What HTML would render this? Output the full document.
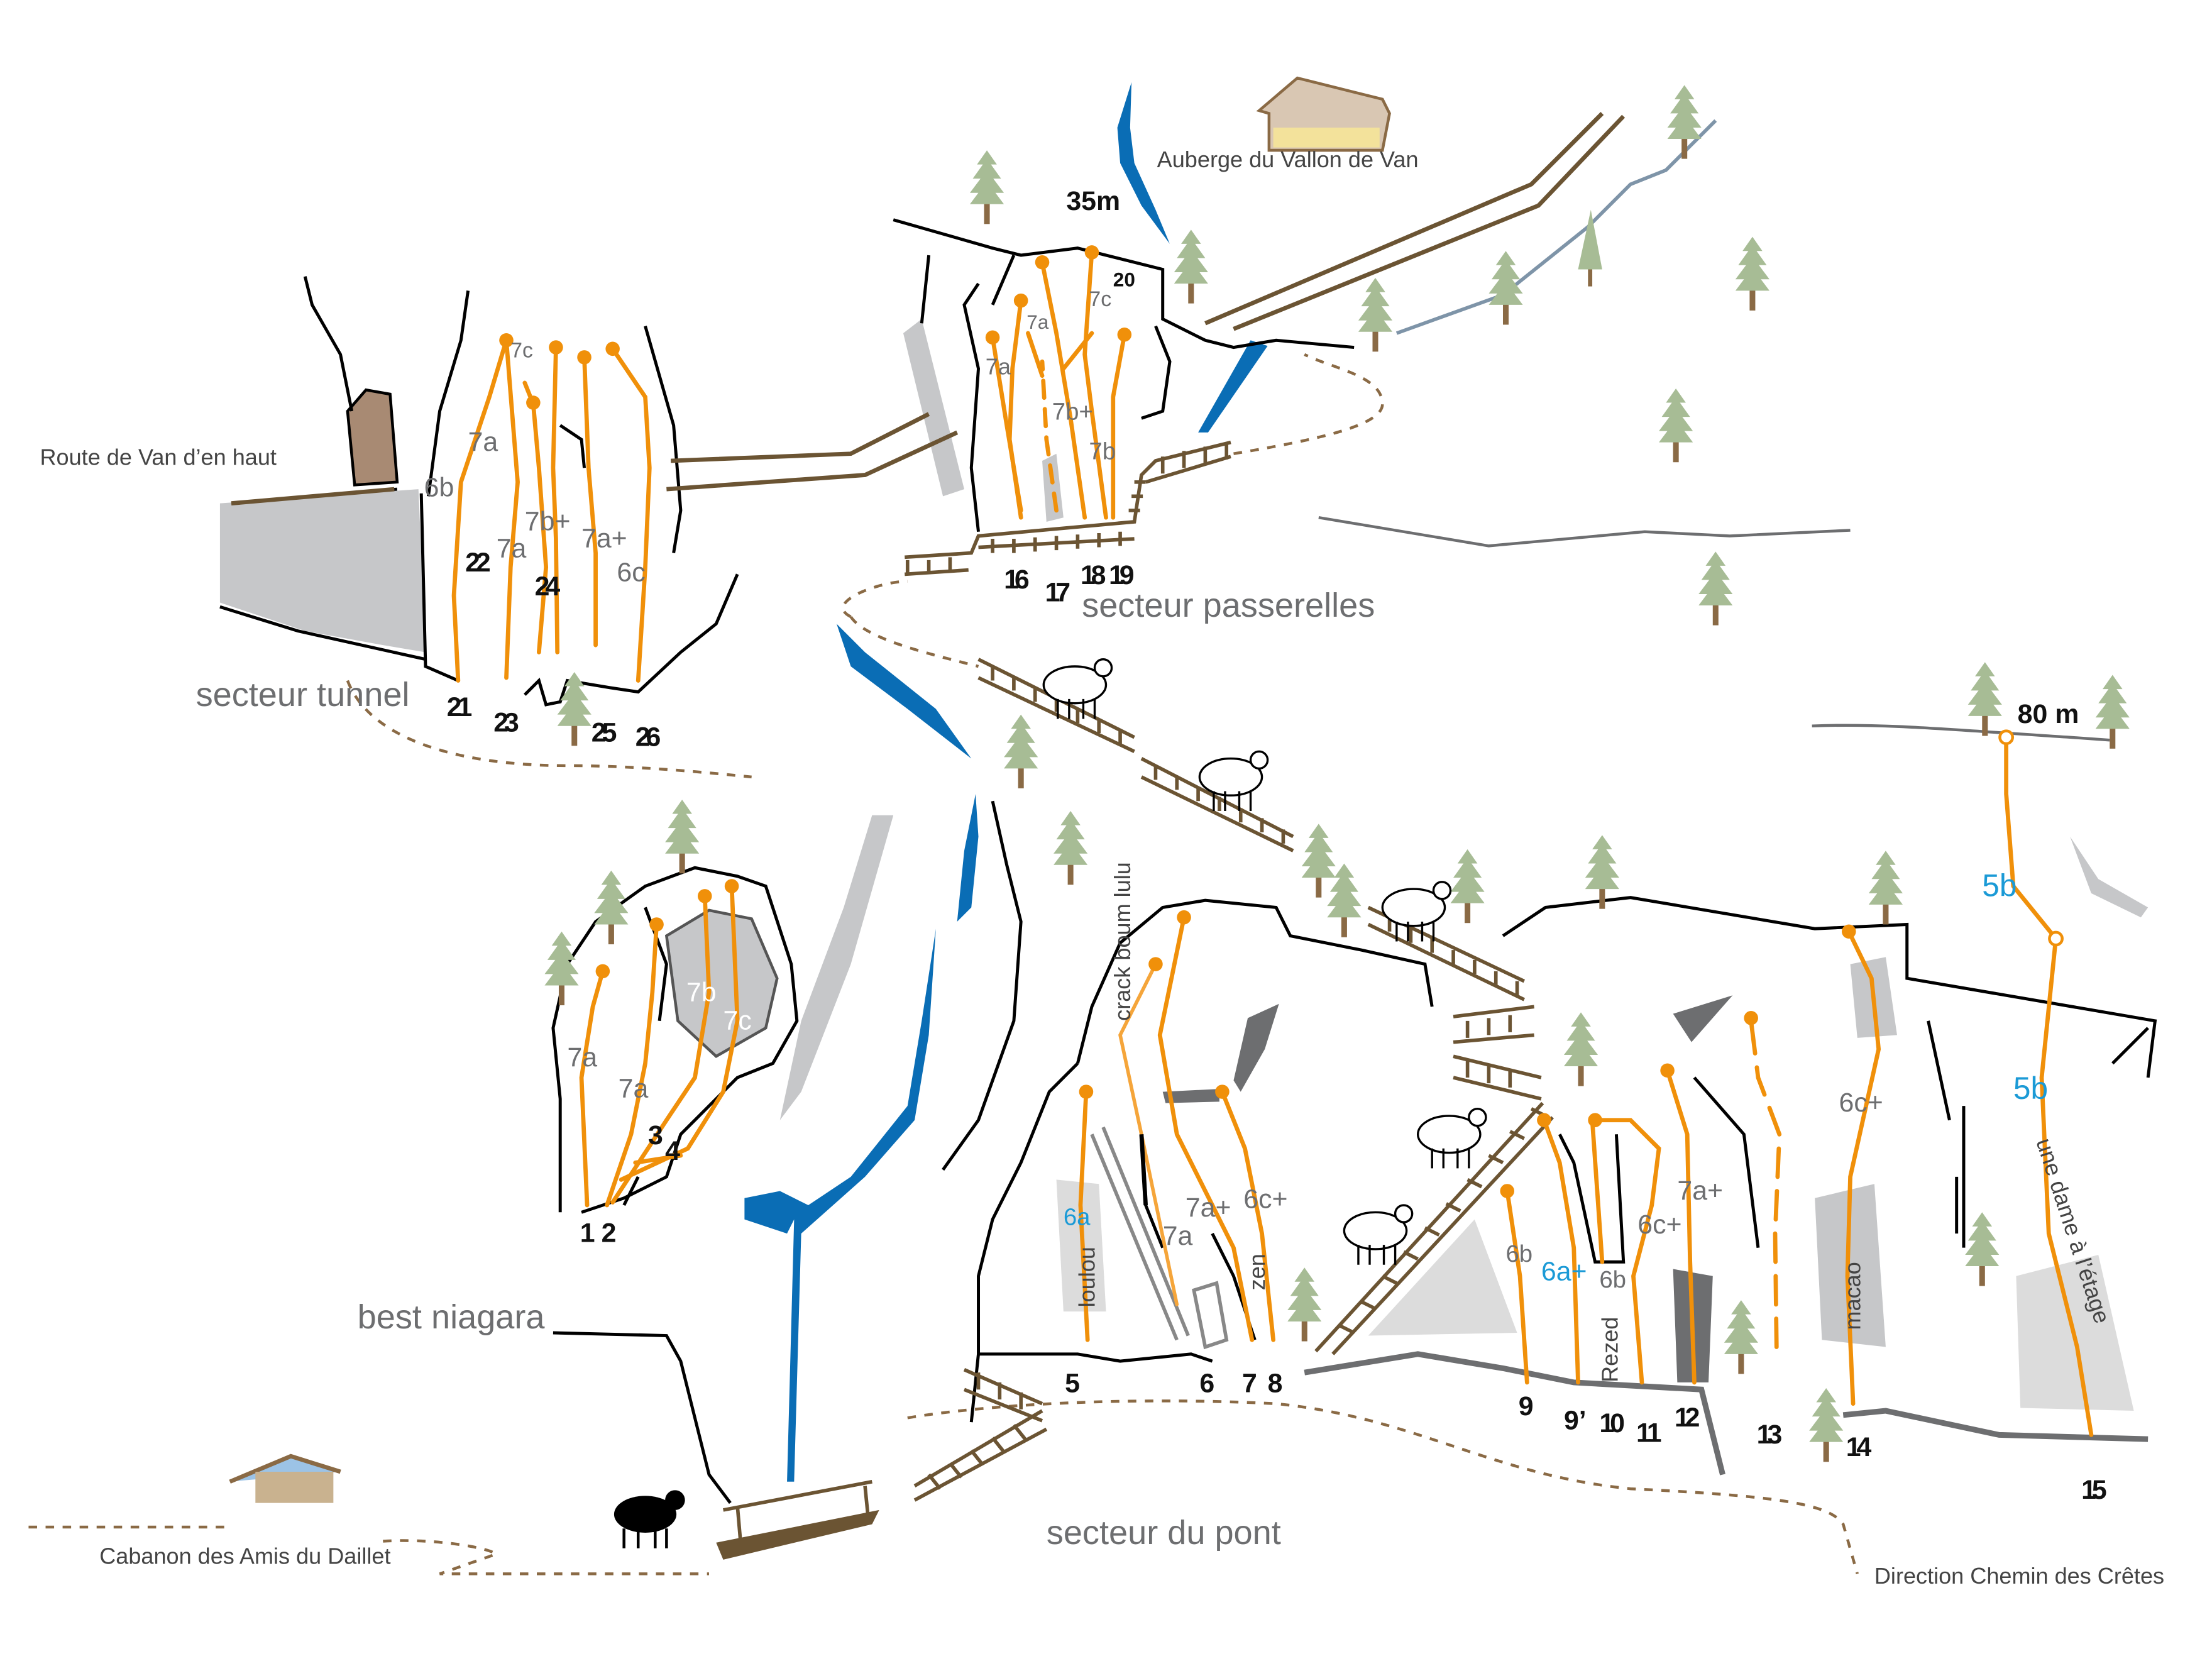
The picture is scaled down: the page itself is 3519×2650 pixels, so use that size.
<!DOCTYPE html>
<html><head><meta charset="utf-8"><style>
html,body{margin:0;padding:0;background:#fff}
svg{display:block}
text{font-family:"Liberation Sans",sans-serif}
.o{stroke:#f0900a;stroke-width:3;fill:none;stroke-linecap:round}
.ol{stroke:#f5a53a;stroke-width:2.5;fill:none}
.k{stroke:#000;stroke-width:2.2;fill:none}
.b{stroke:#6b5433;stroke-width:3;fill:none}
.d{stroke:#8a6a45;stroke-width:2;fill:none;stroke-dasharray:6 6}
.g{fill:#c6c7c9}
.lg{fill:#dcdcdc}
.dg{fill:#6d6e70}
.n{font-family:"Liberation Sans Narrow","Liberation Sans",sans-serif;font-size:19px;font-weight:bold;fill:#111}
.gr{font-size:19px;fill:#6d6e70}
.bl{font-size:22px;fill:#1b9ad6}
.lab{font-size:24px;fill:#6d6e70}
.sm{font-size:16px;fill:#444}
</style></head><body>
<svg width="3519" height="2650" viewBox="0 0 1560 1175" xmlns="http://www.w3.org/2000/svg">
<defs>
<g id="t"><rect x="-2" y="0" width="4" height="16" fill="#8a6a45"/><path d="M0-36 L-7-26 H7Z M0-30 L-10-16 H10Z M0-22 L-12-6 H12Z M0-14 L-12 2 H12Z" fill="#a7bc95"/></g>
<g id="sh"><ellipse cx="0" cy="0" rx="22" ry="13" fill="#fff" stroke="#000" stroke-width="1.5"/><circle cx="20" cy="-12" r="6" fill="#fff" stroke="#000" stroke-width="1.5"/><path d="M-12 10v14M-4 10v14M6 10v14M14 10v14" stroke="#000" stroke-width="1.5"/></g>
</defs>

<path class="d" d="M245 480 C260 520 320 540 400 540 C450 540 500 545 530 548"/>
<path class="d" d="M20 1077 H160 M270 1087 C300 1085 340 1090 350 1096 L310 1110 H500"/>
<path class="d" d="M640 1000 C700 990 800 985 900 990 C1000 1000 1050 1040 1150 1050 C1250 1055 1290 1060 1300 1075 L1310 1110"/>
<path class="d" d="M600 435 C580 425 620 410 640 410 M600 435 C610 450 650 460 690 470"/>
<path class="d" d="M870 320 C930 310 975 300 975 285 C975 265 940 260 920 250"/>

<path d="M798 58 L788 90 L790 115 L805 145 L825 172 L815 148 L800 115 L797 90Z" fill="#0a6db5"/>
<path d="M882 240 L845 305 L852 305 L894 244Z" fill="#0a6db5"/>
<path d="M590 440 L600 470 L640 500 L685 535 L660 500 L610 460Z" fill="#0a6db5"/>
<path d="M688 560 L680 600 L675 650 L685 640 L690 590Z" fill="#0a6db5"/>
<path d="M660 655 L650 720 L640 780 L600 830 L570 850 L550 840 L525 845 L525 860 L555 870 L560 860 L555 1045 L560 1045 L565 870 L610 830 L645 790 L655 730Z" fill="#0a6db5"/>

<path class="g" d="M155 355 L295 345 L300 460 L270 455 L215 445 L155 425Z"/>
<path class="g" d="M637 235 L650 225 L680 345 L665 350Z"/>
<path class="g" d="M735 325 L745 320 L750 365 L738 368Z"/>
<path class="g" d="M615 575 L630 575 L600 680 L565 770 L550 790 L565 720 L595 640Z"/>
<path class="g" d="M470 660 L500 642 L530 648 L548 690 L540 725 L505 745 L478 720Z" stroke="#555" stroke-width="2"/>
<path class="lg" d="M745 832 L775 835 L780 925 L750 925Z"/>
<path class="lg" d="M965 942 L1040 860 L1070 940Z"/>
<path class="g" d="M1305 680 L1330 675 L1338 730 L1310 732Z"/>
<path class="g" d="M1280 845 L1322 835 L1330 950 L1285 945Z"/>
<path class="lg" d="M1422 900 L1480 885 L1505 995 L1425 993Z"/>
<path class="g" d="M1460 590 L1480 620 L1515 640 L1510 647 L1475 630Z"/>
<path class="dg" d="M1180 715 L1222 702 L1193 735Z"/>
<path class="dg" d="M1180 895 L1208 900 L1205 975 L1183 975Z"/>
<path class="dg" d="M880 718 L902 708 L892 740 L875 770 L870 762Z"/>
<path class="dg" d="M820 770 L860 768 L860 777 L822 778Z"/>
<path d="M245 290 L258 275 L275 278 L280 340 L250 342Z" fill="#a88a73" stroke="#000" stroke-width="2"/>

<path class="k" d="M215 195 L220 215 L240 250 L248 290 M165 355 L280 345 M155 428 L210 445 L300 465 M297 348 L300 470 L323 480 M330 205 L325 240 L310 290 L302 350 M370 490 L380 480 L385 497 L395 495 L400 480 L430 485 L450 488 L480 460 L505 440 L520 405 M455 230 L475 300 L480 360 L475 390 M395 300 L410 310 L412 330"/>
<path class="k" d="M630 155 L700 175 L720 180 L760 175 L820 190 L820 225 L850 240 L870 245 L900 240 L955 245 M655 180 L650 228 M690 200 L680 215 L690 260 L685 330 L690 375 M815 230 L825 255 L820 290 L805 295 M715 180 L700 215"/>
<path class="k" d="M395 855 L395 775 L390 725 L400 680 L420 650 L455 625 L490 612 L520 618 L540 625 L558 680 L562 720 L545 750 L520 760 L500 780 L480 800 L470 830 L440 845 L410 855 M455 640 L470 680 L465 720 M450 830 L440 850"/>
<path class="k" d="M685 1003 L690 955 L690 900 L700 860 L720 820 L740 770 L760 750 M700 565 L710 610 L720 650 L715 720 L690 790 L665 825 M690 955 L760 955 L790 960 L840 955 L855 960 M760 750 L770 710 L790 665 L820 640 L850 635 L900 640 L910 660 L960 670 L1005 680 L1010 710 M1060 660 L1090 640 L1150 633 L1280 655 L1345 652 L1345 690 L1520 720 L1515 760 M1490 750 L1515 725"/>
<path class="k" d="M855 870 L870 900 L885 945 M1100 800 L1110 820 L1125 890 L1145 890 L1140 800 M1195 760 L1230 800 L1240 880 M1360 720 L1375 790 M1385 780 L1385 880 M1380 830 L1380 870"/>
<path class="k" d="M805 800 L808 850 L820 880 M390 940 L470 942 L480 960 L490 1000 L500 1040 L515 1060"/>

<path d="M920 968 L1000 955 L1060 965 L1110 975 L1200 980 L1215 1040" stroke="#6d6e70" stroke-width="4" fill="none"/>
<path d="M1300 998 L1330 995 L1410 1012 L1515 1015" stroke="#6d6e70" stroke-width="4" fill="none"/>
<path d="M930 365 L1050 385 L1160 375 L1220 378 L1305 374" stroke="#6d6e70" stroke-width="2" fill="none"/>
<path d="M1278 512 C1330 510 1380 515 1460 520 L1488 522" stroke="#6d6e70" stroke-width="2" fill="none"/>
<path d="M985 235 L1060 208 L1120 160 L1150 130 L1175 120 L1210 85" stroke="#7e94a8" stroke-width="2.5" fill="none"/>
<path d="M770 800 L830 945 M778 795 L838 942" stroke="#888" stroke-width="2.5"/>
<path d="M842 910 L858 905 L865 945 L850 950Z" fill="none" stroke="#888" stroke-width="2.5"/>

<path class="b" d="M163 355 L278 345 M473 325 L600 320 L655 292 M470 345 L610 335 L675 305 M850 228 L1080 130 L1130 80 M870 232 L1085 145 L1145 82"/>
<g stroke="#6b5433" stroke-width="2.5" fill="none">
<path d="M638 393 L685 390 L690 378 L800 368 L805 335 L815 325 L868 312 M638 405 L683 402 M690 386 L800 380 M808 340 L868 322"/>
<path d="M690 465 L800 520 M690 478 L800 530 M805 535 L912 590 M805 548 L912 600 M965 640 L1075 692 M965 652 L1075 705 M1025 717 L1082 710 M1025 735 L1082 730 M1025 745 L1087 760 M1025 760 L1087 775 M928 953 L1088 778 M940 955 L1095 788 M680 966 L735 990 M680 980 L735 1002 M645 1048 L735 995 M645 1058 L738 1008"/>
<path d="M700 470v10M715 477v10M730 485v10M745 492v10M760 500v10M775 507v10M790 515v10M815 540v10M830 547v10M845 555v10M860 562v10M875 570v10M890 577v10M905 585v10M980 647v10M995 655v10M1010 662v10M1025 670v10M1040 677v10M1055 685v10M1070 692v10"/>
<path d="M640 395v10M655 395v10M670 393v10M700 380v10M715 380v10M730 379v10M745 378v10M760 377v10M775 376v10M790 375v10M820 322v12M835 318v12M850 315v12M865 312v12M800 340h8M798 350h8M796 360h8"/>
<path d="M945 935l10 5M960 918l10 5M975 900l10 5M990 883l10 5M1005 866l10 5M1020 849l10 5M1035 832l10 5M1050 815l10 5M1065 798l10 5M1080 782l10 5M1035 720v12M1050 718v12M1065 716v12M1035 748v12M1050 752v12M1065 755v12"/>
<path d="M690 968v12M705 975v12M720 982v12M655 1040l8 10M670 1032l8 10M685 1023l8 10M700 1014l8 10M715 1005l8 10"/>
</g>
<path d="M505 1088 L620 1065 L615 1075 L510 1100Z" fill="#6b5433"/>
<path d="M510 1065 L615 1045 M520 1062 L522 1085 M610 1048 L612 1068" stroke="#6b5433" stroke-width="2.5" fill="none"/>

<g class="o">
<path d="M323 480 L320 420 L325 340 L345 280 L357 240"/>
<path d="M357 478 L360 400 L365 340 L357 240"/>
<path d="M380 460 L385 400 L380 330 L376 285 M370 270 L376 285"/>
<path d="M393 460 L392 380 L390 330 L392 245"/>
<path d="M420 455 L420 390 L415 330 L412 252"/>
<path d="M450 480 L455 400 L458 330 L455 280 L432 246"/>
</g>
<g fill="#f0900a"><circle cx="357" cy="240" r="5"/><circle cx="392" cy="245" r="5"/><circle cx="412" cy="252" r="5"/><circle cx="432" cy="246" r="5"/><circle cx="376" cy="284" r="5"/></g>

<g class="o">
<path d="M720 365 L712 310 L714 260 L720 212"/>
<path d="M720 360 L710 300 L700 238"/>
<path d="M765 365 L755 295 L745 235 L735 185"/>
<path d="M780 365 L770 290 L765 250 L770 178"/>
<path d="M785 365 L785 280 L793 236"/>
<path d="M745 360 L738 310 L735 255" stroke-dasharray="12 8"/>
<path d="M725 235 L735 265"/>
<path d="M750 260 L770 235"/>
</g>
<g fill="#f0900a"><circle cx="720" cy="212" r="5"/><circle cx="700" cy="238" r="5"/><circle cx="735" cy="185" r="5"/><circle cx="770" cy="178" r="5"/><circle cx="793" cy="236" r="5"/></g>

<g class="o">
<path d="M414 850 L410 760 L418 710 L425 685"/>
<path d="M428 850 L445 800 L455 750 L460 700 L463 652"/>
<path d="M432 848 L470 790 L490 760 L500 700 L497 632"/>
<path d="M438 832 L485 810 L510 770 L520 720 L516 625"/>
<path d="M448 820 L480 815"/>
</g>
<g fill="#f0900a"><circle cx="425" cy="685" r="5"/><circle cx="463" cy="652" r="5"/><circle cx="497" cy="632" r="5"/><circle cx="516" cy="625" r="5"/></g>

<g class="o">
<path d="M767 945 L762 850 L766 770"/>
<path class="ol" d="M830 920 L805 800 L790 730 L815 680"/>
<path d="M883 945 L870 880 L830 800 L818 730 L835 647"/>
<path d="M898 945 L890 870 L878 810 L862 770"/>
<path d="M1077 975 L1072 900 L1063 840"/>
<path d="M1113 975 L1110 880 L1100 820 L1089 790"/>
<path d="M1123 790 L1130 890"/>
<path d="M1158 975 L1152 900 L1165 850 L1170 810 L1150 790 L1125 790"/>
<path d="M1195 975 L1192 890 L1190 800 L1176 755"/>
<path d="M1253 950 L1252 870 L1255 800 L1240 760 L1235 720" stroke-dasharray="20 10"/>
<path d="M1307 990 L1303 900 L1305 830 L1325 740 L1320 690 L1304 657"/>
<path d="M1475 1012 L1465 950 L1445 870 L1440 760 L1450 662"/>
<path d="M1450 662 L1420 625 L1415 560 L1415 520"/>
</g>
<g fill="#f0900a"><circle cx="766" cy="770" r="5"/><circle cx="815" cy="680" r="5"/><circle cx="835" cy="647" r="5"/><circle cx="862" cy="770" r="5"/><circle cx="1063" cy="840" r="5"/><circle cx="1089" cy="790" r="5"/><circle cx="1125" cy="790" r="5"/><circle cx="1176" cy="755" r="5"/><circle cx="1235" cy="718" r="5"/><circle cx="1304" cy="657" r="5"/></g>
<circle cx="1450" cy="662" r="4.5" fill="#fff" stroke="#f0900a" stroke-width="2"/>
<circle cx="1415" cy="520" r="4.5" fill="#fff" stroke="#f0900a" stroke-width="2"/>
<path d="M805 800 L808 850" stroke="#000" stroke-width="3"/>

<g>
<use href="#t" x="696" y="142"/><use href="#t" x="840" y="198"/><use href="#t" x="970" y="232"/><use href="#t" x="1062" y="213"/><use href="#t" x="1236" y="203"/><use href="#t" x="1188" y="96"/><use href="#t" x="1182" y="310"/><use href="#t" x="1210" y="425"/><use href="#t" x="720" y="540"/><use href="#t" x="755" y="608"/><use href="#t" x="930" y="617"/><use href="#t" x="948" y="645"/><use href="#t" x="1035" y="635"/><use href="#t" x="1130" y="625"/><use href="#t" x="1330" y="636"/><use href="#t" x="1400" y="503"/><use href="#t" x="1490" y="512"/><use href="#t" x="481" y="600"/><use href="#t" x="431" y="650"/><use href="#t" x="396" y="693"/><use href="#t" x="1115" y="750"/><use href="#t" x="1228" y="953"/><use href="#t" x="1288" y="1015"/><use href="#t" x="1398" y="891"/><use href="#t" x="920" y="930"/><use href="#t" x="405" y="510"/>
</g>
<path d="M1113 190 L1122 148 L1130 190Z" fill="#a7bc95"/><rect x="1120" y="190" width="3" height="12" fill="#8a6a45"/>

<use href="#sh" x="758" y="483"/><use href="#sh" x="868" y="548"/><use href="#sh" x="997" y="640"/><use href="#sh" x="1022" y="800"/><use href="#sh" x="970" y="868"/>
<g><ellipse cx="455" cy="1068" rx="22" ry="13" fill="#000"/><circle cx="476" cy="1058" r="7" fill="#000"/><path d="M440 1078v14M450 1078v14M462 1078v14M470 1078v14" stroke="#000" stroke-width="2"/></g>

<path d="M888 78 L915 55 L975 70 L980 80 L975 106 L895 106 L895 80Z" fill="#d9c7b3" stroke="#8a6a45" stroke-width="2"/>
<rect x="898" y="90" width="75" height="14" fill="#f3e29b"/>
<path d="M162 1045 L205 1027 L240 1038" stroke="#8a6a45" stroke-width="3" fill="#9cc3e6"/>
<rect x="180" y="1038" width="55" height="22" fill="#c9b28f"/>

<text class="lab" x="138" y="498">secteur tunnel</text>
<text class="lab" x="763" y="435">secteur passerelles</text>
<text class="lab" x="252" y="937">best niagara</text>
<text class="lab" x="738" y="1089">secteur du pont</text>
<text class="sm" x="28" y="328">Route de Van d’en haut</text>
<text class="sm" x="816" y="118">Auberge du Vallon de Van</text>
<text class="sm" x="70" y="1103">Cabanon des Amis du Daillet</text>
<text class="sm" x="1322" y="1117">Direction Chemin des Crêtes</text>
<text class="n" x="752" y="148" font-size="21" fill="#555">35m</text>
<text class="n" x="1423" y="510" font-size="21" fill="#555">80 m</text>

<g class="gr">
<text x="299" y="350">6b</text><text x="330" y="318">7a</text><text x="360" y="252" font-size="15">7c</text>
<text x="350" y="393">7a</text><text x="370" y="374">7b+</text><text x="410" y="386">7a+</text><text x="435" y="410">6c</text>
<text x="695" y="264" font-size="16">7a</text><text x="724" y="232" font-size="14">7a</text><text x="768" y="216" font-size="15">7c</text>
<text x="742" y="296" font-size="17">7b+</text><text x="768" y="324" font-size="17">7b</text>
<text x="400" y="752">7a</text><text x="436" y="774">7a</text>
<text x="484" y="706" fill="#fff">7b</text><text x="510" y="726" fill="#fff">7c</text>
<text x="836" y="858">7a+</text><text x="877" y="852">6c+</text><text x="820" y="878">7a</text>
<text x="1062" y="890" font-size="17">6b</text><text x="1128" y="908" font-size="17">6b</text>
<text x="1155" y="870">6c+</text><text x="1183" y="846">7a+</text><text x="1297" y="784">6c+</text>
</g>
<g class="bl"><text x="750" y="864" font-size="17">6a</text><text x="1087" y="903" font-size="19">6a+</text><text x="1398" y="632">5b</text><text x="1420" y="775">5b</text></g>
<text class="sm" font-size="13" transform="translate(797 720) rotate(-90)">crack boum lulu</text>
<text class="sm" font-size="14" transform="translate(772 922) rotate(-90)">loulou</text>
<text class="sm" font-size="13" transform="translate(892 910) rotate(-90)">zen</text>
<text class="sm" font-size="13" transform="translate(1141 975) rotate(-90)">Rezed</text>
<text class="sm" font-size="15" transform="translate(1312 938) rotate(-90)">macao</text>
<text class="sm" font-size="15" transform="translate(1436 805) rotate(72)">une dame à l’étage</text>

<g class="n" transform="scale(1 1)">
<text x="315" y="505" textLength="18">21</text><text x="328" y="403" textLength="18">22</text><text x="348" y="516" textLength="18">23</text><text x="377" y="420" textLength="18">24</text><text x="417" y="523" textLength="18">25</text><text x="448" y="526" textLength="18">26</text>
<text x="708" y="415" textLength="18">16</text><text x="737" y="424" textLength="18">17</text><text x="762" y="412" textLength="18">18</text><text x="782" y="412" textLength="18">19</text><text x="785" y="202" font-size="14">20</text>
<text x="409" y="876">1</text><text x="424" y="876">2</text><text x="457" y="807">3</text><text x="469" y="818">4</text>
<text x="751" y="982">5</text><text x="846" y="982">6</text><text x="876" y="982">7</text><text x="894" y="982">8</text>
<text x="1071" y="998">9</text><text x="1103" y="1008">9’</text><text x="1128" y="1010" textLength="18">10</text><text x="1154" y="1017" textLength="18">11</text><text x="1181" y="1006" textLength="18">12</text>
<text x="1239" y="1018" textLength="18">13</text><text x="1302" y="1027" textLength="18">14</text><text x="1468" y="1057" textLength="18">15</text>
</g>
</svg>
</body></html>
